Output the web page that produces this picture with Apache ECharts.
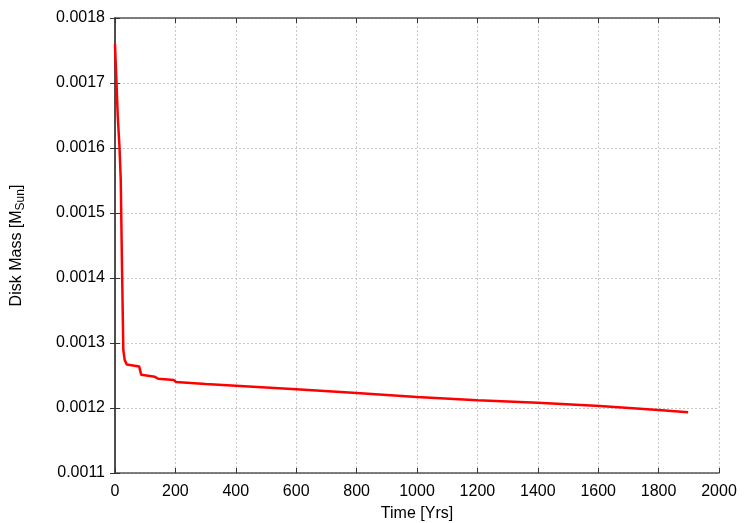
<!DOCTYPE html>
<html><head><meta charset="utf-8">
<script src="https://cdn.jsdelivr.net/npm/echarts@6/dist/echarts.min.js"></script>
<style>html,body{margin:0;padding:0;background:#fff}#c{width:747px;height:523px}</style>
</head><body><div id="c"></div>
<script>
var timeYrs = [0, 2, 5, 9, 15, 19, 23, 27.6, 32, 39, 80, 87, 132, 143, 195, 202, 300, 414, 600, 800, 1000, 1200, 1400, 1606, 1799, 1898];
var diskMass = [0.00176, 0.001735, 0.001700, 0.001650, 0.001600, 0.001551, 0.001423, 0.001289, 0.001274, 0.001267, 0.001264, 0.001251, 0.001248, 0.001245, 0.001243, 0.001240, 0.001237, 0.001234, 0.001229, 0.001223, 0.001217, 0.001212, 0.001208, 0.001203, 0.001197, 0.0011935];
var xTicks = [0, 200, 400, 600, 800, 1000, 1200, 1400, 1600, 1800, 2000];
var yTicks = [0.0011, 0.0012, 0.0013, 0.0014, 0.0015, 0.0016, 0.0017, 0.0018];

var font = 'Liberation Sans, Arial, sans-serif';
var chart = echarts.init(document.getElementById('c'));
var pts = timeYrs.map(function (t, i) { return [t, diskMass[i]]; });
var gridStyle = { show: true, lineStyle: { color: '#c8c8c8', type: [2, 2], width: 1 } };
chart.setOption({
  animation: false,
  grid: { left: 115, right: 28, top: 18, bottom: 50, containLabel: false, outerBoundsMode: 'none' },
  xAxis: [{
    type: 'value', min: xTicks[0], max: xTicks[xTicks.length - 1], interval: 200,
    name: 'Time [Yrs]', nameLocation: 'middle', nameGap: 33,
    nameTextStyle: { fontFamily: font, fontSize: 16, color: '#000' },
    axisLine: { show: true, lineStyle: { color: '#555', width: 1.5 } },
    axisTick: { show: true, inside: true, length: 5, lineStyle: { color: '#333' } },
    axisLabel: { fontFamily: font, fontSize: 16, color: '#000', margin: 11,
      formatter: function (v) { return String(v); } },
    splitLine: gridStyle
  }, {
    type: 'value', position: 'top', min: 0, max: 2000, interval: 200,
    axisLine: { show: true, lineStyle: { color: '#555', width: 1.5 } },
    axisTick: { show: true, inside: true, length: 5, lineStyle: { color: '#333' } },
    axisLabel: { show: false }, splitLine: { show: false }
  }],
  yAxis: [{
    type: 'value', min: yTicks[0], max: yTicks[yTicks.length - 1], interval: 0.0001,
    name: '{n|Disk Mass [M}{s|Sun}{n|]}', nameLocation: 'middle', nameGap: 88, nameRotate: 90,
    nameTextStyle: { rich: {
      n: { fontFamily: font, fontSize: 16, color: '#000' },
      s: { fontFamily: font, fontSize: 12, color: '#000', verticalAlign: 'bottom', padding: [8, 0, 0, 0] }
    } },
    axisLine: { show: true, lineStyle: { color: '#000', width: 1.5 } },
    axisTick: { show: true, inside: true, length: 5, lineStyle: { color: '#333' } },
    axisLabel: { fontFamily: font, fontSize: 16, color: '#000', margin: 10,
      formatter: function (v) { return v.toFixed(4); } },
    splitLine: gridStyle
  }, {
    type: 'value', position: 'right', min: 0.0011, max: 0.0018, interval: 0.0001,
    axisLine: { show: true, lineStyle: { color: '#555', width: 1.5 } },
    axisTick: { show: true, inside: true, length: 5, lineStyle: { color: '#333' } },
    axisLabel: { show: false }, splitLine: { show: false }
  }],
  series: [{
    type: 'line', data: pts, showSymbol: false, symbol: 'none',
    lineStyle: { color: '#ff0000', width: 2.5 }, xAxisIndex: 0, yAxisIndex: 0
  }]
});
</script></body></html>
